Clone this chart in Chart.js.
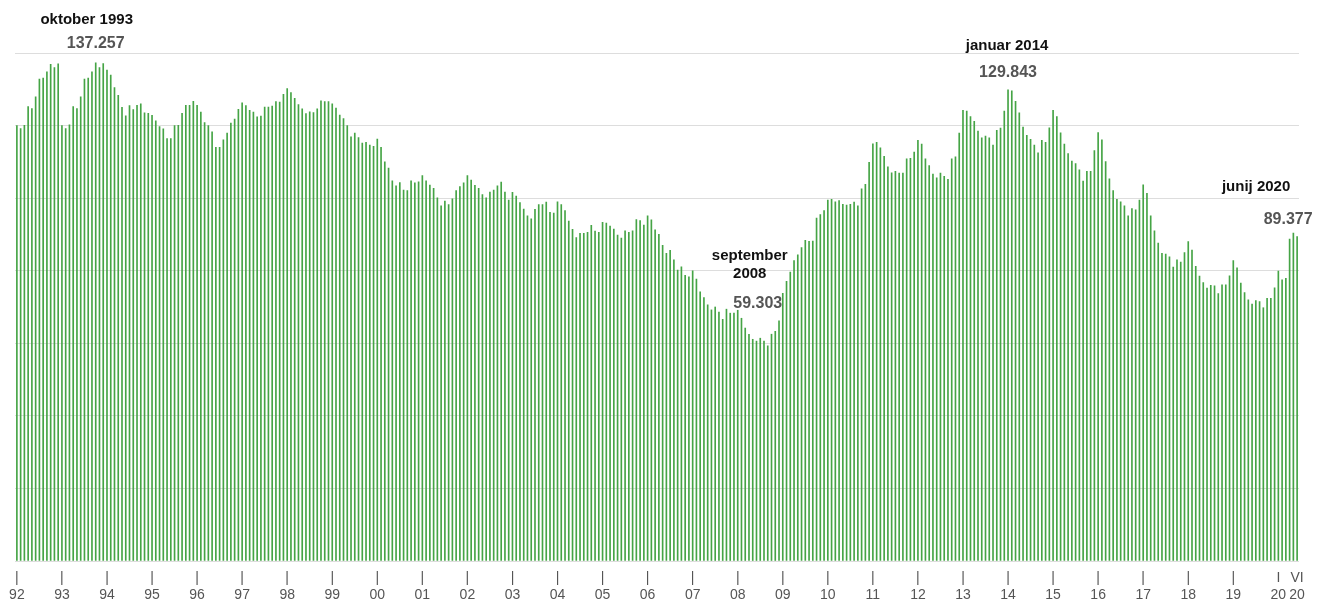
<!DOCTYPE html>
<html lang="sl">
<head>
<meta charset="utf-8">
<title>Graf</title>
<script src="https://cdn.jsdelivr.net/npm/chart.js@4"></script>
<style>
  body { margin: 0; background: #fff; }
  #okvir { width: 1318px; height: 600px; }
</style>
</head>
<body>
<div id="okvir"><canvas id="graf"></canvas></div>
<script>
// Oznake let na osi x (januar vsakega leta)
const oznakeLet = ['92','93','94','95','96','97','98','99','00','01','02','03','04','05',
    '06','07','08','09','10','11','12','13','14','15','16','17','18','19','20'];

// Mesečne vrednosti (v tisočih), jan 1992 - jun 2020, ena vrstica = eno leto
const vrednosti = [
    120.0, 119.2, 120.1, 125.2, 124.7, 127.9, 132.8, 133.1, 134.8, 136.9, 136.0, 137.0,
    120.0, 119.2, 120.2, 125.2, 124.7, 127.9, 132.8, 133.1, 134.8, 137.257, 136.0, 137.1,
    135.3, 133.9, 130.5, 128.3, 125.0, 122.7, 125.5, 124.4, 125.6, 126.0, 123.5, 123.4,
    122.8, 121.3, 119.7, 119.1, 116.4, 116.4, 120.0, 120.1, 123.4, 125.6, 125.6, 126.7,
    125.6, 123.7, 120.8, 120.0, 118.3, 114.0, 114.0, 116.1, 117.9, 120.7, 121.8, 124.5,
    126.3, 125.5, 124.2, 123.7, 122.4, 122.6, 125.1, 125.1, 125.4, 126.6, 126.5, 128.6,
    130.2, 129.1, 127.5, 125.8, 124.6, 123.3, 123.8, 123.6, 124.6, 126.8, 126.6, 126.6,
    126.0, 124.8, 122.9, 121.9, 120.0, 116.9, 117.9, 116.7, 115.2, 115.4, 114.6, 114.3,
    116.3, 114.0, 110.0, 108.3, 104.8, 103.4, 104.3, 102.2, 102.1, 104.8, 104.2, 104.5,
    106.2, 104.8, 103.6, 102.7, 100.1, 97.9, 99.2, 98.2, 99.8, 102.1, 103.2, 104.2,
    106.2, 105.0, 103.5, 102.7, 101.0, 100.1, 101.7, 102.2, 103.4, 104.4, 101.7, 99.5,
    101.6, 100.6, 98.8, 97.0, 95.1, 94.3, 96.9, 98.2, 98.2, 98.9, 96.1, 95.9,
    99.0, 98.2, 96.6, 93.7, 91.4, 89.1, 90.3, 90.3, 90.6, 92.5, 90.9, 90.6,
    93.3, 93.1, 92.3, 91.5, 89.8, 89.0, 91.0, 90.6, 91.0, 94.1, 93.8, 92.6,
    95.1, 94.0, 91.3, 90.0, 87.0, 84.8, 85.6, 83.0, 80.2, 81.1, 78.7, 78.3,
    80.0, 77.7, 74.2, 72.6, 70.6, 69.2, 70.0, 68.6, 66.6, 69.4, 68.3, 68.3,
    69.1, 66.9, 64.2, 62.5, 61.1, 60.6, 61.4, 60.6, 59.303, 62.5, 63.3, 66.2,
    73.8, 77.1, 79.6, 82.8, 84.4, 86.4, 88.4, 88.1, 88.2, 94.5, 95.5, 96.6,
    99.5, 99.7, 99.0, 99.3, 98.3, 98.1, 98.3, 98.9, 97.9, 102.6, 103.8, 109.9,
    115.0, 115.4, 113.9, 111.5, 108.6, 107.0, 107.4, 106.9, 106.9, 110.8, 111.0, 112.7,
    115.9, 114.9, 110.8, 109.0, 106.6, 105.6, 106.9, 106.0, 105.2, 110.8, 111.4, 117.9,
    124.2, 124.0, 122.5, 121.2, 118.5, 116.6, 117.1, 116.6, 114.6, 118.7, 119.3, 124.0,
    129.843, 129.6, 126.7, 123.5, 119.6, 117.3, 116.2, 114.6, 112.5, 115.9, 115.4, 119.4,
    124.2, 122.5, 118.0, 114.9, 112.3, 110.2, 109.5, 107.8, 104.7, 107.4, 107.4, 113.1,
    118.1, 116.1, 110.1, 105.3, 102.1, 99.7, 99.0, 97.9, 95.1, 97.1, 96.8, 99.5,
    103.7, 101.3, 95.1, 91.0, 87.6, 84.8, 84.6, 83.8, 81.0, 83.0, 82.4, 85.0,
    88.0, 85.7, 81.2, 78.5, 76.7, 75.2, 76.0, 75.8, 73.7, 76.1, 76.1, 78.6,
    82.8, 80.8, 76.6, 74.0, 72.0, 70.8, 71.8, 71.5, 69.8, 72.4, 72.4, 75.3,
    79.9, 77.5, 77.9, 88.7, 90.4, 89.377
];

// Označeni meseci (indeks v vrednosti), naslov in izpisana vrednost
const oznakeIndeks = [21, 200, 264, 341];
const oznakeNaslov = [['oktober 1993'], ['september', '2008'], ['januar 2014'], ['junij 2020']];
const oznakeVrednost = ['137.257', '59.303', '129.843', '89.377'];

// Kategorije: en stolpec na mesec
const kategorije = vrednosti.map((v, i) => (1992 + Math.floor(i / 12)) + '-' + (i % 12 + 1));

// Zamiki napisov glede na vrh stolpca (px)
const zamiki = [
    { dxN: -9, dxV: 0, dyV: -19, dyN: -24 },
    { dxN: -18, dxV: -10, dyV: -42, dyN: -30 },
    { dxN: -1, dxV: 0, dyV: -17, dyN: -27 },
    { dxN: -41, dxV: -9, dyV: -17, dyN: -33 }
];

// Vtičnik za napise nad izbranimi stolpci
const napisi = {
    id: 'napisi',
    afterDatasetsDraw(chart) {
        const ctx = chart.ctx;
        const meta = chart.getDatasetMeta(0);
        ctx.save();
        ctx.textAlign = 'center';
        ctx.textBaseline = 'middle';
        oznakeIndeks.forEach((idx, k) => {
            const x = meta.data[idx].x;
            const yVrh = chart.scales.y.getPixelForValue(vrednosti[idx]);
            const z = zamiki[k];
            const yV = yVrh + z.dyV;
            ctx.font = 'bold 16px "Liberation Sans", Arial, sans-serif';
            ctx.fillStyle = '#555';
            ctx.fillText(oznakeVrednost[k], x + z.dxV, yV);
            ctx.fillStyle = '#111';
            ctx.font = 'bold 15px "Liberation Sans", Arial, sans-serif';
            const vrstice = oznakeNaslov[k];
            vrstice.forEach((t, j) => {
                const y = yV + z.dyN - (vrstice.length - 1 - j) * 18;
                ctx.fillText(t, x + z.dxN, y);
            });
        });
        ctx.restore();
    }
};

new Chart(document.getElementById('graf'), {
    type: 'bar',
    data: {
        labels: kategorije,
        datasets: [{
            data: vrednosti,
            backgroundColor: '#45a445',
            barThickness: 1
        }]
    },
    options: {
        responsive: true,
        maintainAspectRatio: false,
        animation: false,
        layout: { padding: { top: 53, left: 15, right: 19, bottom: 0 } },
        plugins: {
            legend: { display: false },
            tooltip: { enabled: false }
        },
        scales: {
            x: {
                grid: { display: false, drawTicks: false },
                border: { display: false },
                afterFit: s => { s.height = 39; },
                ticks: {
                    autoSkip: false,
                    maxRotation: 0,
                    padding: 8,
                    color: '#555',
                    font: { size: 14, family: '"Liberation Sans", Arial, sans-serif', lineHeight: 1.25 },
                    callback: function (v, i) {
                        const leto = Math.floor(i / 12);
                        if (i === vrednosti.length - 1) return ['VI', oznakeLet[leto]];
                        if (i % 12 === 0) return [leto === oznakeLet.length - 1 ? 'I' : '|', oznakeLet[leto]];
                        return '';
                    }
                }
            },
            y: {
                min: 0,
                max: 140,
                ticks: { display: false, stepSize: 20 },
                border: { display: false },
                grid: { color: '#dddddd', drawTicks: false }
            }
        }
    },
    plugins: [napisi]
});
</script>
</body>
</html>
